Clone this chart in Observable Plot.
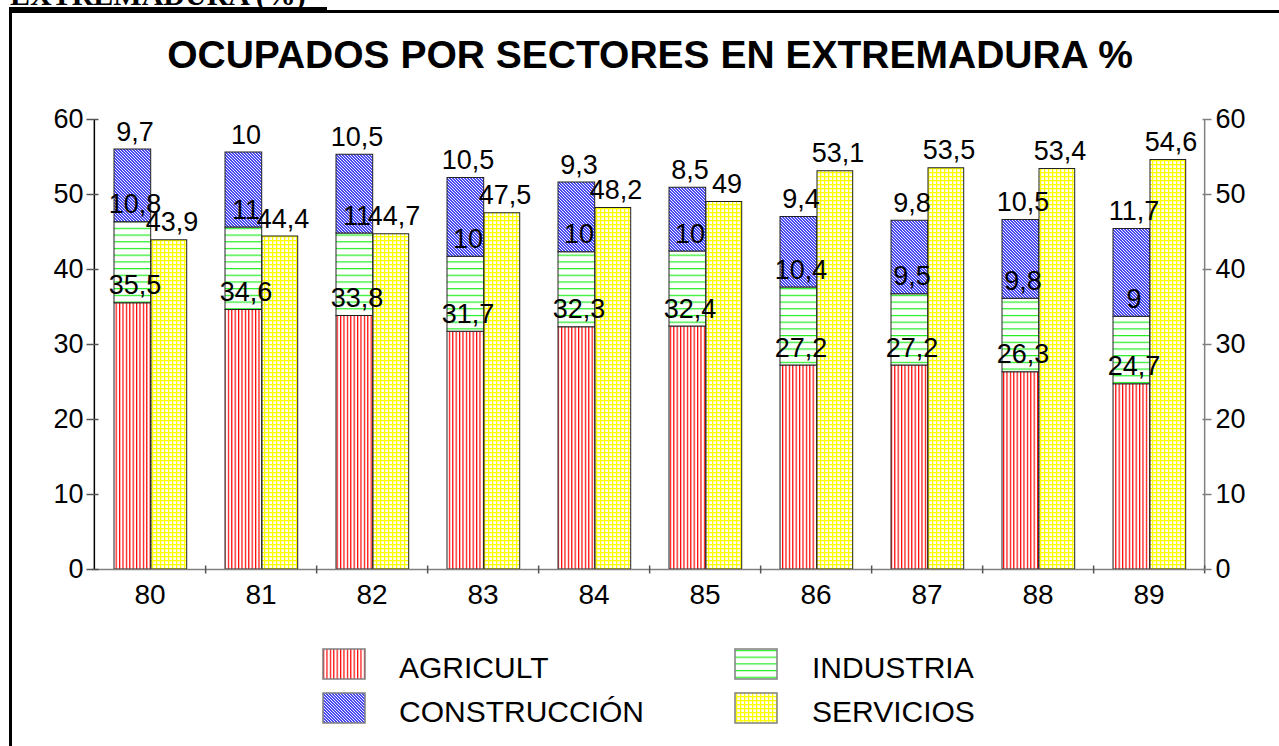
<!DOCTYPE html>
<html><head><meta charset="utf-8">
<script src="https://cdn.jsdelivr.net/npm/d3@7"></script>
<script src="https://cdn.jsdelivr.net/npm/@observablehq/plot@0.6"></script>
<style>
body{margin:0;background:#fff;width:1279px;height:746px;overflow:hidden;position:relative;font-family:"Liberation Sans",Arial,sans-serif;}
#chart{position:absolute;left:0;top:0;}
#overlay{position:absolute;left:0;top:0;}
</style></head>
<body>
<div id="chart"></div>
<svg id="overlay" width="1279" height="746"></svg>
<script>
// ---- data ----
const years = ["80","81","82","83","84","85","86","87","88","89"];
const agricult     = [35.5, 34.6, 33.8, 31.7, 32.3, 32.4, 27.2, 27.2, 26.3, 24.7];
const industria    = [10.8, 11, 11, 10, 10, 10, 10.4, 9.5, 9.8, 9];
const construccion = [9.7, 10, 10.5, 10.5, 9.3, 8.5, 9.4, 9.8, 10.5, 11.7];
const servicios    = [43.9, 44.4, 44.7, 47.5, 48.2, 49, 53.1, 53.5, 53.4, 54.6];
const sectors = ["AGRICULT", "INDUSTRIA", "CONSTRUCCIÓN", "SERVICIOS"];
const yTicks = [0, 10, 20, 30, 40, 50, 60];
const title = "OCUPADOS POR SECTORES EN EXTREMADURA %";
const header = "EXTREMADURA (%)";

// ---- pattern defs (in overlay svg) ----
const overlay = d3.select("#overlay");
const defs = overlay.append("defs");
function pat(id, w, h, build){
  const p = defs.append("pattern").attr("id", id).attr("patternUnits","userSpaceOnUse")
    .attr("width", w).attr("height", h);
  build(p);
}
pat("pAgr", 3.4, 4, p => {
  p.append("rect").attr("width",3.4).attr("height",4).attr("fill","#fff");
  p.append("rect").attr("width",1.2).attr("height",4).attr("fill","#ff0000");
});
pat("pInd", 4, 6.7, p => {
  p.append("rect").attr("width",4).attr("height",6.7).attr("fill","#fff");
  p.append("rect").attr("width",4).attr("height",1.2).attr("fill","#22ee22");
});
pat("pCon", 3, 3, p => {
  p.append("rect").attr("width",3).attr("height",3).attr("fill","#0000f0");
  p.append("path").attr("d","M-1,-1L4,4M-1,2L1,4M2,-1L4,1").attr("stroke","#fff").attr("stroke-width",1.1);
});
pat("pSer", 4, 4, p => {
  p.append("rect").attr("width",4).attr("height",4).attr("fill","#ffff00");
  p.append("rect").attr("x",1.3).attr("y",1.3).attr("width",2.7).attr("height",2.7).attr("fill","#fff");
});
const fills = ["url(#pAgr)","url(#pInd)","url(#pCon)","url(#pSer)"];

// ---- data table ----
const stacked = years.flatMap((yr, i) => [
  {year: yr, sector: sectors[0], value: agricult[i]},
  {year: yr, sector: sectors[1], value: industria[i]},
  {year: yr, sector: sectors[2], value: construccion[i]}
]);
const serv = years.map((yr, i) => ({year: yr, sector: sectors[3], value: servicios[i]}));

const W = 1279, H = 640, ML = 92, MR = 74, MT = 119, MB = 71;
const bw = (W - ML - MR) / years.length;
const fmt = v => String(v).replace(".", ",");

const vline = {draw(ctx){ ctx.moveTo(0,-4); ctx.lineTo(0,4); }};
const hlineL = {draw(ctx){ ctx.moveTo(-6,0); ctx.lineTo(6,0); }};
const hlineR = {draw(ctx){ ctx.moveTo(-3,0); ctx.lineTo(6,0); }};

const chart = Plot.plot({
  width: W, height: H,
  marginLeft: ML, marginRight: MR, marginTop: MT, marginBottom: MB,
  style: {fontFamily: "Liberation Sans, Arial, sans-serif", background: "transparent", overflow: "visible", color: "#000"},
  x: {domain: years, padding: 0, axis: null},
  y: {domain: [0, 60], axis: null},
  color: {type: "ordinal", domain: sectors, range: fills},
  marks: [
    Plot.barY(stacked, {x: "year", y: "value", fill: "sector", stroke: "#222", strokeWidth: 1,
      insetLeft: 20, insetRight: bw - 57}),
    Plot.barY(serv, {x: "year", y: "value", fill: "sector", stroke: "#222", strokeWidth: 1,
      insetLeft: 57, insetRight: bw - 93}),
    Plot.ruleY([0], {stroke: "#808080", strokeWidth: 1.5}),
    Plot.ruleX([years[0]], {x: d => d, y1: 0, y2: 60, dx: -bw/2, stroke: "#000", strokeWidth: 1.5}),
    Plot.ruleX([years[years.length-1]], {x: d => d, y1: 0, y2: 60, dx: bw/2, stroke: "#808080", strokeWidth: 1.5}),
    Plot.dot(years, {x: d => d, y: 0, dx: bw/2, symbol: vline, stroke: "#555", strokeWidth: 1.5}),
    Plot.dot(yTicks, {y: d => d, frameAnchor: "left", symbol: hlineL, stroke: "#555", strokeWidth: 1.5}),
    Plot.dot(yTicks, {y: d => d, frameAnchor: "right", symbol: hlineR, stroke: "#808080", strokeWidth: 1.5}),
    Plot.axisY({anchor: "left", ticks: yTicks, tickSize: 0, tickPadding: 9, fontSize: 27, label: null, tickFormat: d => d}),
    Plot.axisY({anchor: "right", ticks: yTicks, tickSize: 0, tickPadding: 10, fontSize: 27, label: null, tickFormat: d => d}),
    Plot.axisX({anchor: "bottom", tickSize: 0, tickPadding: 15, fontSize: 28, label: null}),
    Plot.text(stacked, Plot.stackY2({x: "year", y: "value", z: "sector", text: d => fmt(d.value),
      dx: -15, dy: -9, lineAnchor: "bottom", fontSize: 27, fill: "#000"})),
    Plot.text(serv, {x: "year", y: "value", text: d => fmt(d.value),
      dx: 22, dy: -9, lineAnchor: "bottom", fontSize: 27, fill: "#000"})
  ]
});
document.getElementById("chart").appendChild(chart);

// ---- frame, header, title, legend ----
overlay.append("rect").attr("x", 9).attr("y", 10).attr("width", 1300).attr("height", 3).attr("fill", "#000");
overlay.append("rect").attr("x", 9).attr("y", 10).attr("width", 3).attr("height", 740).attr("fill", "#000");
overlay.append("rect").attr("x", 9).attr("y", 7).attr("width", 318).attr("height", 4).attr("fill", "#000");
overlay.append("text").attr("x", 10).attr("y", 5).text(header)
  .attr("font-family", "Liberation Serif, serif").attr("font-weight", "bold").attr("font-size", 30);
overlay.append("text").attr("x", 650).attr("y", 68).attr("text-anchor", "middle").text(title)
  .attr("font-family", "Liberation Sans, Arial, sans-serif").attr("font-weight", "bold").attr("font-size", 39);

const legendItems = [
  {i: 0, sx: 323, sy: 649, tx: 399, ty: 678},
  {i: 1, sx: 735, sy: 649, tx: 812, ty: 678},
  {i: 2, sx: 323, sy: 693, tx: 399, ty: 722},
  {i: 3, sx: 735, sy: 693, tx: 812, ty: 722}
];
legendItems.forEach(d => {
  overlay.append("rect").attr("x", d.sx).attr("y", d.sy).attr("width", 42).attr("height", 30)
    .attr("fill", fills[d.i]).attr("stroke", "#808080").attr("stroke-width", 1.5);
  overlay.append("text").attr("x", d.tx).attr("y", d.ty).text(sectors[d.i])
    .attr("font-family", "Liberation Sans, Arial, sans-serif").attr("font-size", 30);
});
</script>
</body></html>
